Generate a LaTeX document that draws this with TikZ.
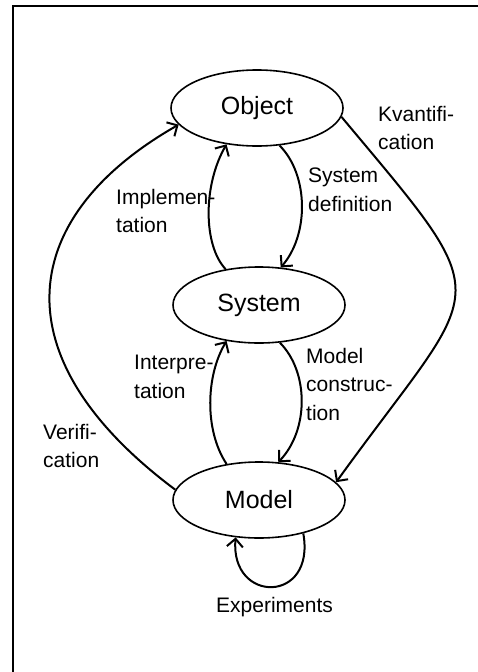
\documentclass[tikz,border=0pt]{standalone}
\usepackage{fontspec}
\setmainfont{Liberation Sans}
\usetikzlibrary{arrows.meta,shapes.geometric}

\begin{document}
\begin{tikzpicture}[x=1pt,y=-1pt,
  stage/.style={draw=black,line width=1.6pt,ellipse,minimum width=172pt,minimum height=76pt,inner sep=0pt,font=\fontsize{25}{30}\selectfont},
  flow/.style={-{Straight Barb[length=8pt,width=16pt,line width=2pt]},line width=2pt},
  lab/.style={anchor=north west,align=left,inner sep=0pt,font=\fontsize{21}{28.5}\selectfont}]
\useasboundingbox (0,0) rectangle (478,672);
\begin{scope}
\clip (0,0) rectangle (478,672);
\draw[line width=2.3pt] (13,6) rectangle (500,700);
\end{scope}
\node[stage] (obj) at (257,108) {Object};
\node[stage] (sys) at (259,305) {System};
\node[stage] (mod) at (259,500) {Model};
% loops between neighbouring stages
\draw[flow] (obj.301) .. controls (309,175) and (309,235) .. (sys.60);
\draw[flow] (sys.133) .. controls (203,245) and (203,185) .. (obj.230);
\draw[flow] (sys.299) .. controls (309,372) and (309,430) .. (mod.63);
\draw[flow] (mod.132) .. controls (204,430) and (206,375) .. (sys.228);
% outer arcs
\draw[flow] (obj.-6) .. controls (503,310) and (485,276) .. (mod.13);
\draw[flow] (mod.173) .. controls (-5,355) and (20,215) .. (obj.192);
\draw[flow] (mod.323) .. controls (316,604) and (230,604) .. (mod.238);
\node[lab] (kvant) at (378,106) {Kvantifi-\\cation};
\node[lab] (sdef) at (308,168) {System\\definition};
\node[lab] (impl) at (116,189) {Implemen-\\tation};
\node[lab] (interp) at (134,355) {Interpre-\\tation};
\node[lab] (mcon) at (306,348) {Model\\construc-\\tion};
\node[lab] (verif) at (43,424) {Verifi-\\cation};
\node[lab] (exper) at (216,597) {Experiments};
\end{tikzpicture}
\end{document}
